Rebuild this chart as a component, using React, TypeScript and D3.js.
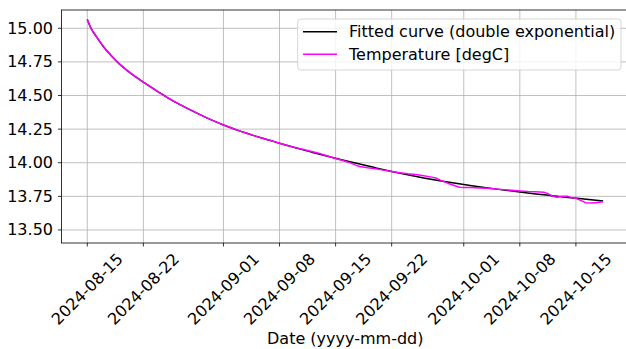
import React from 'react';
import * as d3 from 'd3';

// start of the record, days are counted from here
const START = '2024-08-15';

// fitted double exponential
const fitDays = [0, 0.5, 1, 2, 3, 4, 5, 6, 7, 8, 9, 10, 11, 12, 13, 14, 15, 16, 17, 18, 19, 20, 21, 22, 23, 24,
  26, 28, 30, 32, 34, 36, 38, 40, 42, 44, 46, 48, 50, 52, 54, 56, 58, 60, 62, 64.4];
const fitValues = [15.065, 14.995, 14.95, 14.865, 14.795, 14.735, 14.685, 14.64, 14.60, 14.56, 14.522,
  14.485, 14.451, 14.419, 14.389, 14.36, 14.332, 14.306, 14.281, 14.258, 14.237, 14.217, 14.198,
  14.18, 14.163, 14.145, 14.111, 14.079, 14.048, 14.019, 13.99, 13.962, 13.935, 13.91, 13.887,
  13.866, 13.847, 13.829, 13.812, 13.797, 13.782, 13.768, 13.755, 13.742, 13.73, 13.716];

// measured temperature
const tempDays = [0, 0.5, 1, 2, 3, 4, 5, 6, 7, 8, 9, 10, 11, 12, 13, 14, 15, 16, 17, 18, 19, 20, 21, 22, 23, 24,
  25, 26, 27, 28, 29, 30, 31, 32, 33, 33.5, 34, 35, 36, 37, 38, 39, 40, 41, 42, 43, 43.5, 44, 45, 46,
  46.5, 47, 48, 49, 50, 51, 52, 53, 54, 55, 56, 57, 57.5, 58, 58.6, 59.3, 60, 60.5, 61, 61.6, 62.2, 63, 63.7, 64.4];
const tempValues = [15.065, 14.995, 14.95, 14.865, 14.795, 14.735, 14.685, 14.64, 14.60, 14.56, 14.522,
  14.485, 14.451, 14.419, 14.389, 14.36, 14.332, 14.306, 14.281, 14.258, 14.237, 14.217, 14.198,
  14.18, 14.163, 14.145, 14.128, 14.112, 14.098, 14.084, 14.068, 14.05, 14.032, 14.015, 13.995,
  13.982, 13.972, 13.962, 13.955, 13.945, 13.935, 13.926, 13.918, 13.912, 13.903, 13.893, 13.887,
  13.872, 13.848, 13.827, 13.818, 13.815, 13.815, 13.813, 13.81, 13.805, 13.80, 13.795, 13.79,
  13.786, 13.785, 13.78, 13.77, 13.755, 13.743, 13.75, 13.75, 13.74, 13.735, 13.72, 13.703, 13.70,
  13.705, 13.71];

const xTickLabels = ['2024-08-15', '2024-08-22', '2024-09-01', '2024-09-08', '2024-09-15',
  '2024-09-22', '2024-10-01', '2024-10-08', '2024-10-15'];
const yTicks = [13.5, 13.75, 14.0, 14.25, 14.5, 14.75, 15.0];

const seriesNames = ['Fitted curve (double exponential)', 'Temperature [degC]'];
const seriesColors = ['#000000', '#ff00ff'];

const W = 626;
const H = 349;
const margin = { top: 10, right: -3, bottom: 106, left: 61.5 };
const FONT = 'DejaVu Sans, sans-serif';

const DAY = 86400000;
const t0 = new Date(START + 'T00:00:00Z').getTime();
const toDate = (d: number) => new Date(t0 + d * DAY);

export default function App() {
  const x = d3.scaleUtc()
    .domain([toDate(-3.22), toDate(67.63)])
    .range([margin.left, W - margin.right]);
  const y = d3.scaleLinear()
    .domain([13.403, 15.136])
    .range([H - margin.bottom, margin.top]);

  const fitLine = d3.line<[number, number]>()
    .x(d => x(toDate(d[0])))
    .y(d => y(d[1]))
    .curve(d3.curveMonotoneX);
  const tempLine = d3.line<[number, number]>()
    .x(d => x(toDate(d[0])))
    .y(d => y(d[1]));

  const fitPath = fitLine(fitDays.map((d, i) => [d, fitValues[i]]) as [number, number][]) || '';
  const tempPath = tempLine(tempDays.map((d, i) => [d, tempValues[i]]) as [number, number][]) || '';

  const x0 = margin.left;
  const x1 = W - margin.right;
  const y0 = H - margin.bottom;
  const y1 = margin.top;

  return (
    <div style={{ position: 'fixed', left: 0, top: 0 }}>
      <svg width={W} height={H} style={{ display: 'block', background: '#fff' }} fontFamily={FONT}>
        {/* grid */}
        <g stroke="#b0b0b0" strokeWidth={0.8}>
          {xTickLabels.map(t => {
            const px = x(new Date(t + 'T00:00:00Z'));
            return <line key={t} x1={px} x2={px} y1={y1} y2={y0} />;
          })}
          {yTicks.map(t => (
            <line key={t} x1={x0} x2={x1} y1={y(t)} y2={y(t)} />
          ))}
        </g>

        {/* series */}
        <path d={fitPath} fill="none" stroke={seriesColors[0]} strokeWidth={1.5} />
        <path d={tempPath} fill="none" stroke={seriesColors[1]} strokeWidth={1.5} strokeLinejoin="round" />

        {/* spines */}
        <rect x={x0} y={y1} width={x1 - x0} height={y0 - y1} fill="none" stroke="#000" strokeWidth={0.8} />

        {/* y axis */}
        {yTicks.map(t => (
          <g key={t} transform={`translate(0,${y(t)})`}>
            <line x1={x0 - 3.5} x2={x0} stroke="#000" strokeWidth={0.8} />
            <text x={x0 - 8.5} textAnchor="end" dominantBaseline="central" fontSize={16} fill="#000">
              {d3.format('.2f')(t)}
            </text>
          </g>
        ))}

        {/* x axis */}
        {xTickLabels.map(t => {
          const px = x(new Date(t + 'T00:00:00Z'));
          return (
            <g key={t}>
              <line x1={px} x2={px} y1={y0} y2={y0 + 3.5} stroke="#000" strokeWidth={0.8} />
              <text transform={`translate(${px},${y0 + 46}) rotate(-45)`} textAnchor="middle"
                dominantBaseline="central" fontSize={16} fill="#000">{t}</text>
            </g>
          );
        })}
        <text x={(x0 + x1) / 2} y={338} textAnchor="middle" dominantBaseline="central" fontSize={16} fill="#000">
          Date (yyyy-mm-dd)
        </text>

        {/* legend */}
        <g>
          <rect x={297.7} y={19} width={323.3} height={51} rx={3} fill="#fff" fillOpacity={0.8}
            stroke="#cccccc" strokeWidth={0.8} />
          {seriesNames.map((n, i) => (
            <g key={n} transform={`translate(0,${31.7 + i * 22.6})`}>
              <line x1={303} x2={337} stroke={seriesColors[i]} strokeWidth={1.5} />
              <text x={349} dominantBaseline="central" fontSize={16} fill="#000">{n}</text>
            </g>
          ))}
        </g>
      </svg>
    </div>
  );
}
